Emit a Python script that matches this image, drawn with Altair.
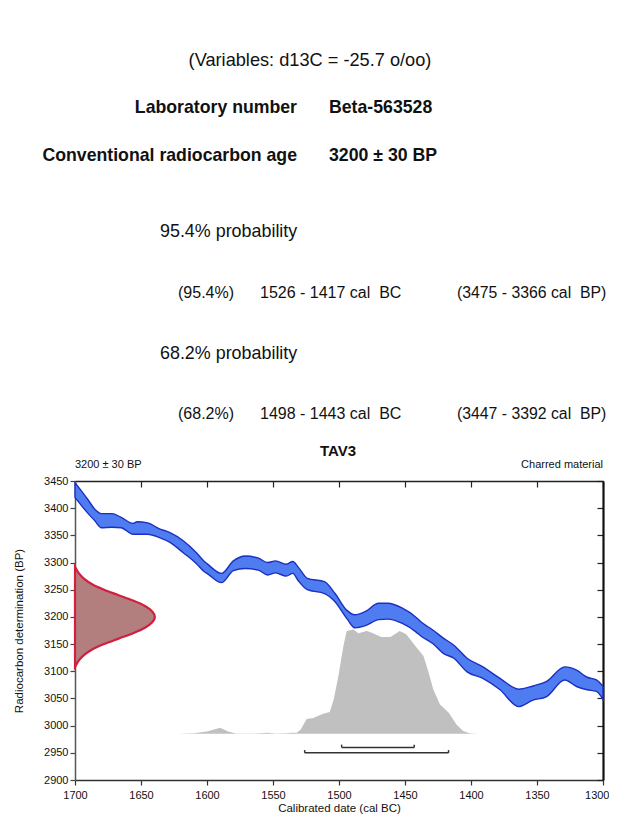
import altair as alt
import pandas as pd

FONT = "Liberation Sans"
W, H = 528, 299

# ---------------- data ----------------
# Calibration curve band (cal BC year, upper / lower radiocarbon age BP)
curve_year = [1700, 1690, 1685, 1680, 1672, 1665, 1656, 1653, 1645, 1636,
              1628, 1618, 1608, 1602, 1600, 1589, 1580, 1571, 1561, 1554,
              1548, 1540, 1535, 1531, 1524, 1511, 1503, 1494, 1488, 1480,
              1470, 1463, 1452, 1442, 1438, 1429, 1421, 1413, 1403, 1391,
              1378, 1364, 1353, 1343, 1329, 1320, 1312, 1305, 1300]
curve_upper = [3447, 3415, 3398, 3390, 3390, 3383, 3372, 3375, 3373, 3362,
               3355, 3340, 3318, 3302, 3298, 3280, 3303, 3312, 3308, 3300,
               3303, 3297, 3302, 3292, 3271, 3265, 3243, 3212, 3204, 3210,
               3225, 3225, 3216, 3200, 3191, 3176, 3161, 3148, 3124, 3108,
               3087, 3067, 3073, 3081, 3108, 3102, 3089, 3084, 3072]
curve_lower = [3420, 3390, 3377, 3364, 3365, 3364, 3352, 3352, 3352, 3346,
               3337, 3318, 3298, 3283, 3280, 3263, 3285, 3289, 3286, 3277,
               3281, 3275, 3280, 3267, 3250, 3243, 3228, 3197, 3180, 3184,
               3195, 3196, 3188, 3173, 3165, 3151, 3133, 3124, 3099, 3087,
               3066, 3035, 3047, 3053, 3084, 3072, 3066, 3063, 3048]

# Measured radiocarbon age distribution (BP) drawn against the y axis
meas_bp = [3292, 3290, 3280, 3270, 3260, 3250, 3240, 3230, 3220, 3210, 3200,
           3190, 3180, 3170, 3160, 3150, 3140, 3130, 3120, 3110, 3108]
meas_year = [1700, 1699.5, 1697, 1693, 1687, 1678, 1667, 1656, 1647, 1641.5, 1639.5,
             1641.5, 1647, 1656, 1667, 1678, 1687, 1693, 1697, 1699.5, 1700]

# Calibrated probability distribution (relative height)
prob_year = [1622, 1610, 1600, 1590, 1584, 1578, 1565, 1554, 1548, 1540,
             1536, 1532, 1529, 1524.5, 1519.5, 1512, 1507, 1504, 1500.5, 1496.7,
             1494.2, 1489, 1485.4, 1479, 1475, 1468, 1461, 1454, 1449, 1442,
             1436, 1432, 1428.6, 1423.5, 1417, 1411, 1406, 1401, 1395, 1350, 1300]
prob_value = [0, 1, 4, 11, 4, 0.5, 0.5, 2, 0.5, 1,
              2, 2, 8, 27, 29, 37, 40, 63, 106, 161,
              189, 192, 185, 189, 186, 178, 178, 189, 183, 161,
              143, 112, 82, 54, 39, 17, 5, 1, 0.3, 0.3, 0]

# Calibrated ranges
range_prob = ["95.4%", "68.2%"]
range_start = [1526, 1498]
range_end = [1417, 1443]

# Texts
variables_text = "(Variables: d13C = -25.7 o/oo)"
header_labels = ["Laboratory number", "Conventional radiocarbon age"]
header_values = ["Beta-563528", "3200 ± 30 BP"]
prob_titles = ["95.4% probability", "68.2% probability"]
range_pct = ["(95.4%)", "(68.2%)"]
range_bc = ["1526 - 1417 cal\u00a0 BC", "1498 - 1443 cal\u00a0 BC"]
range_bp = ["(3475 - 3366 cal\u00a0 BP)", "(3447 - 3392 cal\u00a0 BP)"]
sample_name = "TAV3"
age_note = "3200 ± 30 BP"
material = "Charred material"

x_ticks = [1700, 1650, 1600, 1550, 1500, 1450, 1400, 1350, 1300]
y_ticks = [2900, 2950, 3000, 3050, 3100, 3150, 3200, 3250, 3300, 3350, 3400, 3450]

# ---------------- chart ----------------
xs = alt.Scale(domain=[1700, 1300], nice=False, zero=False)
ys = alt.Scale(domain=[2900, 3450], nice=False, zero=False)

axis_common = dict(grid=False, labelFont=FONT, titleFont=FONT, labelColor="#111",
                   titleColor="#111", titleFontWeight="normal")

x_main = alt.Axis(values=x_ticks, format="d", title="Calibrated date (cal BC)",
                  labelFontSize=11, titleFontSize=11.5, tickSize=5, tickColor="#333",
                  domainColor="#333", domainWidth=1.5, tickWidth=1.2,
                  labelPadding=4, titlePadding=2, labelFlush=False,
                  labelAlign={"condition": {"test": "datum.value == 1300", "value": "right"},
                              "value": "center"},
                  labelOffset={"condition": {"test": "datum.value == 1300", "value": 6},
                               "value": 0},
                  **axis_common)
y_main = alt.Axis(values=y_ticks, format="d", title="Radiocarbon determination (BP)",
                  labelFontSize=11, titleFontSize=11.5, tickSize=5, tickColor="#444",
                  domainColor="#555", domainWidth=1.5, tickWidth=1.2,
                  labelPadding=2, titlePadding=19, labelFlush=False, **axis_common)
x_top = alt.Axis(values=x_ticks, labels=False, title="", orient="bottom", offset=-H,
                 tickSize=6, tickColor="#222", domainColor="#222", domainWidth=1.6,
                 tickWidth=1.2, grid=False)
y_right = alt.Axis(values=y_ticks, labels=False, title="", orient="left", offset=-W,
                   tickSize=6, tickColor="#222", domainColor="#111", domainWidth=2.2,
                   tickWidth=1.2, grid=False)

curve = pd.DataFrame({"year": curve_year, "upper": curve_upper, "lower": curve_lower})
meas = pd.DataFrame({"bp": meas_bp, "year": meas_year})
prob = pd.DataFrame({"year": prob_year, "p": prob_value})
ranges = pd.DataFrame({"prob": range_prob, "start": range_start, "end": range_end})

grey = alt.Chart(prob).transform_calculate(
    top="2985 + datum.p", base="2985"
).mark_area(color="#c0c0c0", opacity=1).encode(
    x=alt.X("year:Q", scale=xs, axis=x_main),
    y=alt.Y("top:Q", scale=ys, axis=y_main),
    y2="base:Q",
)

band = alt.Chart(curve).mark_area(
    color="#4f7cf0", opacity=1, stroke="#1b2fc2", strokeWidth=1.4, interpolate="monotone"
).encode(
    x=alt.X("year:Q", scale=xs, axis=x_top),
    y=alt.Y("upper:Q", scale=ys, axis=y_right),
    y2="lower:Q",
)

meas_area = alt.Chart(meas).mark_area(
    orient="horizontal", fill="#b27e7e", opacity=1, stroke="#d21f3f", strokeWidth=2.2,
    interpolate="monotone"
).encode(
    y=alt.Y("bp:Q", scale=ys, axis=None),
    x=alt.X("year:Q", scale=xs, axis=None),
    x2=alt.datum(1700),
)

level_expr = "datum.prob == '95.4%' ? 2950 : 2960"
bars = alt.Chart(ranges).transform_calculate(level=level_expr).mark_rule(
    color="#333", strokeWidth=1.5
).encode(
    x=alt.X("start:Q", scale=xs, axis=None),
    x2="end:Q",
    y=alt.Y("level:Q", scale=ys, axis=None),
)
caps = alt.Chart(ranges).transform_fold(
    ["start", "end"], as_=["side", "yr"]
).transform_calculate(level=level_expr).transform_calculate(
    cap="datum.level + 5"
).mark_rule(color="#333", strokeWidth=1.5).encode(
    x=alt.X("yr:Q", scale=xs, axis=None),
    y=alt.Y("level:Q", scale=ys, axis=None),
    y2="cap:Q",
)


def label(text, x, y, size, weight="normal", align="left"):
    return alt.Chart(pd.DataFrame({"t": [text]})).mark_text(
        font=FONT, fontSize=size, fontWeight=weight, align=align,
        baseline="middle", color="#111"
    ).encode(x=alt.value(x), y=alt.value(y), text="t:N")


texts = [
    label(variables_text, 235, -420, 18.2, align="center"),
    label(header_labels[0], 222, -373, 17.7, "bold", "right"),
    label(header_values[0], 254, -373, 17.7, "bold"),
    label(header_labels[1], 222, -325, 17.7, "bold", "right"),
    label(header_values[1], 254, -325, 17.7, "bold"),
    label(prob_titles[0], 85, -249, 17.9),
    label(range_pct[0], 103, -188, 16),
    label(range_bc[0], 185, -188, 16),
    label(range_bp[0], 382, -188, 15.8),
    label(prob_titles[1], 85, -127, 17.9),
    label(range_pct[1], 103, -67, 16),
    label(range_bc[1], 185, -67, 16),
    label(range_bp[1], 382, -67, 15.8),
    label(sample_name, 263, -30, 15, "bold", "center"),
    label(age_note, 0, -16, 11),
    label(material, 528, -16, 11, align="right"),
]

chart = alt.layer(grey, band, meas_area, bars, caps, *texts).resolve_axis(
    x="independent", y="independent"
).properties(
    width=W, height=H,
    autosize=alt.AutoSizeParams(type="none"),
    padding={"left": 67, "top": 473, "right": 6, "bottom": 34},
).configure_view(strokeWidth=0)

chart.save("out.html", embed_options={"renderer": "svg", "actions": False})
